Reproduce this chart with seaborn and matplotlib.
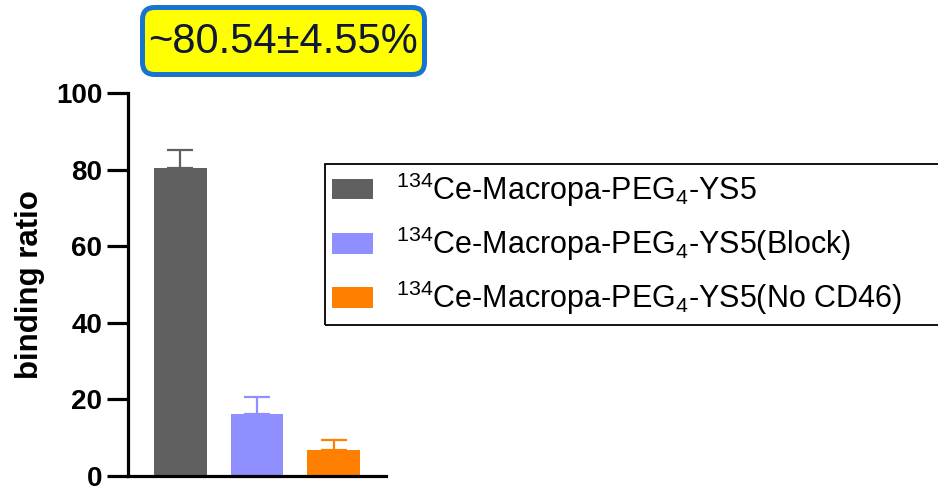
import matplotlib
matplotlib.use("Agg")
import matplotlib.pyplot as plt
from matplotlib.patches import FancyBboxPatch, Rectangle
import seaborn as sns
import pandas as pd

# Binding ratio per condition (mean and SD)
groups = [
    r"$^{134}$Ce-Macropa-PEG$_4$-YS5",
    r"$^{134}$Ce-Macropa-PEG$_4$-YS5(Block)",
    r"$^{134}$Ce-Macropa-PEG$_4$-YS5(No CD46)",
]
means = [80.54, 16.3, 6.8]
sds = [4.55, 4.3, 2.6]
colors = ["#606060", "#8F8FFF", "#FF8000"]
y_ticks = [0, 20, 40, 60, 80, 100]
annotation = "~80.54±4.55%"

sns.set_theme(style="white")
plt.rcParams["font.family"] = ["Liberation Sans", "DejaVu Sans"]
plt.rcParams["mathtext.fontset"] = "custom"
plt.rcParams["mathtext.rm"] = "Liberation Sans"
plt.rcParams["mathtext.default"] = "regular"
plt.rcParams["text.color"] = "black"
plt.rcParams["axes.labelcolor"] = "black"
plt.rcParams["ytick.color"] = "black"

df = pd.DataFrame({"group": groups, "ratio": means})

W, H = 938, 488
fig = plt.figure(figsize=(W / 100, H / 100), dpi=100)
ax = fig.add_axes([128 / W, 1 - 476 / H, 258 / W, 383 / H])

sns.barplot(data=df, x="group", y="ratio", hue="group", palette=colors,
            width=0.68, dodge=False, legend=False, ax=ax, saturation=1,
            edgecolor="none")

# upper-only SD error bars in the bar colour
for i, (m, s, c) in enumerate(zip(means, sds, colors)):
    ax.errorbar(i, m, yerr=[[0], [s]], fmt="none", ecolor=c,
                elinewidth=1.6, capsize=9.5, capthick=1.6, zorder=1)

ax.set_xlim(-0.686, 2.686)
ax.set_ylim(0, 100)
ax.set_yticks(y_ticks)
ax.set_xticks([])
ax.set_xlabel("")
ax.set_ylabel("binding ratio", fontsize=22.5, fontweight="bold", color="black")
ax.yaxis.set_label_coords(-0.32, 0.5)

for side in ["top", "right"]:
    ax.spines[side].set_visible(False)
for side in ["left", "bottom"]:
    ax.spines[side].set_linewidth(2.3)
    ax.spines[side].set_color("black")

ax.tick_params(axis="y", which="major", left=True, length=15, width=2.3,
               pad=3.5, labelsize=20, color="black", labelcolor="black")
for lab in ax.get_yticklabels():
    lab.set_fontweight("bold")

handles = [plt.Rectangle((0, 0), 1, 1, facecolor=c, edgecolor="none") for c in colors]
leg = fig.legend(handles, groups, loc="upper left",
                 bbox_to_anchor=(325 / W, 1 - 164 / H),
                 fontsize=22, frameon=False,
                 handlelength=1.34, handleheight=0.65,
                 handletextpad=0.75, borderpad=0.22, labelspacing=0.52,
                 borderaxespad=0)

# legend frame running past the right edge of the figure
fig.add_artist(Rectangle((325 / W, 1 - 325 / H), 660 / W, 161 / H,
                         transform=fig.transFigure, facecolor="none",
                         edgecolor="black", linewidth=1.3))

# highlighted annotation box above the first bar
box = FancyBboxPatch((142.5 / W, 1 - 74.5 / H), 282 / W, 67 / H,
                     boxstyle="round,pad=0,rounding_size=0.013",
                     transform=fig.transFigure, facecolor="#FFFF00",
                     edgecolor="#1874CD", linewidth=3.6, mutation_aspect=W / H)
fig.add_artist(box)
fig.text(283 / W, 1 - 42 / H, annotation, fontsize=30, color="#0f1838",
         ha="center", va="center")

fig.savefig("out.png", dpi=100)
